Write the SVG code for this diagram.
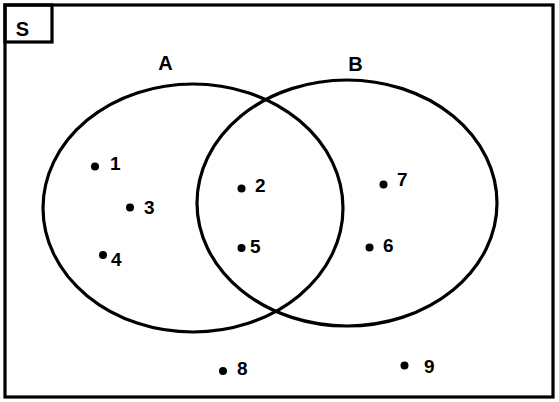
<svg xmlns="http://www.w3.org/2000/svg" width="559" height="402" viewBox="0 0 559 402">
<style>
.ln{fill:none;stroke:#000;stroke-width:3.2}
.lbl{font-family:"Liberation Sans",Arial,sans-serif;font-weight:bold;font-size:20px;fill:#000}
.num{font-family:"Liberation Sans",Arial,sans-serif;font-weight:bold;font-size:19px;fill:#000}
.dot{fill:#000}
</style>
<rect width="559" height="402" fill="#fff"/>
<g id="universe">
<rect class="ln" x="5" y="5" width="548" height="392"/>
<rect class="ln" x="5" y="5" width="47" height="37"/>
<text class="lbl" x="22.5" y="36" text-anchor="middle">S</text>
</g>
<g id="setA">
<ellipse class="ln" cx="193" cy="208" rx="150" ry="124"/>
<text class="lbl" x="165.5" y="70" text-anchor="middle">A</text>
</g>
<g id="setB">
<ellipse class="ln" cx="347" cy="203" rx="150" ry="123"/>
<text class="lbl" x="355.5" y="71" text-anchor="middle">B</text>
</g>
<g id="connectors"></g>
<g id="e1"><circle class="dot" cx="95" cy="166.5" r="4"/><text class="num" x="110" y="170">1</text></g>
<g id="e3"><circle class="dot" cx="130" cy="207.5" r="4"/><text class="num" x="144" y="214">3</text></g>
<g id="e4"><circle class="dot" cx="103" cy="255" r="4"/><text class="num" x="111" y="266">4</text></g>
<g id="e2"><circle class="dot" cx="241.5" cy="188.5" r="4"/><text class="num" x="255" y="191.5">2</text></g>
<g id="e5"><circle class="dot" cx="241.5" cy="248" r="4"/><text class="num" x="250" y="252.5">5</text></g>
<g id="e7"><circle class="dot" cx="383.5" cy="184.5" r="4"/><text class="num" x="397" y="185.5">7</text></g>
<g id="e6"><circle class="dot" cx="369.5" cy="247.5" r="4"/><text class="num" x="383" y="251.5">6</text></g>
<g id="e8"><circle class="dot" cx="223" cy="371" r="4"/><text class="num" x="237" y="375">8</text></g>
<g id="e9"><circle class="dot" cx="404.5" cy="365.5" r="4"/><text class="num" x="424" y="373">9</text></g>
</svg>
